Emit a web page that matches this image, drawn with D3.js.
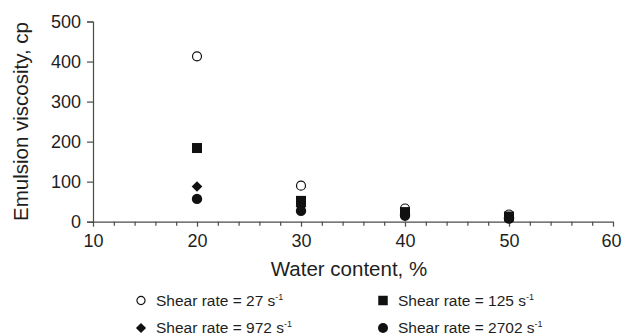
<!DOCTYPE html>
<html>
<head>
<meta charset="utf-8">
<script src="https://cdn.jsdelivr.net/npm/d3@7"></script>
<style>
  body { margin: 0; background: #fff; }
  svg { display: block; font-family: "Liberation Sans", Arial, sans-serif; }
</style>
</head>
<body>
<div id="chart"></div>
<script>
// water content (%) on x
const waterContent = [20, 30, 40, 50];

// emulsion viscosity (cp) for each shear rate
const visc27 = [413, 90, 33, 18];
const visc125 = [184, 52, 24, 13];
const visc972 = [88, 38, 19, 10];
const visc2702 = [57, 27, 15, 8];

const seriesNames = [
  'Shear rate = 27 s',
  'Shear rate = 125 s',
  'Shear rate = 972 s',
  'Shear rate = 2702 s'
];

const xTicks = [10, 20, 30, 40, 50, 60];
const yTicks = [0, 100, 200, 300, 400, 500];

const W = 622, H = 336;
const margin = { top: 21.5, right: 9, bottom: 114.3, left: 93 };

const svg = d3.select('#chart').append('svg')
  .attr('width', W)
  .attr('height', H);

const x = d3.scaleLinear().domain([10, 60]).range([margin.left, W - margin.right]);
const y = d3.scaleLinear().domain([0, 500]).range([H - margin.bottom, margin.top]);

const axisColor = '#4a4a4a';
const textColor = '#1e1e1e';

// y axis
const yAxis = svg.append('g')
  .attr('transform', `translate(${margin.left},0)`)
  .call(d3.axisLeft(y).tickValues(yTicks).tickSize(6).tickPadding(6).tickFormat(d3.format('d')));
yAxis.select('.domain').attr('stroke', axisColor).attr('stroke-width', 1.2);
yAxis.selectAll('.tick line').attr('stroke', axisColor).attr('stroke-width', 1.2);
yAxis.selectAll('.tick text').attr('fill', textColor).style('font-size', '18px');

// x axis minor ticks every 2
const xBase = H - margin.bottom;
const minor = d3.range(12, 60, 2).filter(d => d % 10 !== 0);
svg.append('g')
  .attr('transform', `translate(0,${xBase})`)
  .call(d3.axisBottom(x).tickValues(minor).tickSize(4).tickFormat(''))
  .call(g => g.select('.domain').remove())
  .selectAll('.tick line').attr('stroke', axisColor).attr('stroke-width', 1.2);

// x axis major ticks
const xAxis = svg.append('g')
  .attr('transform', `translate(0,${xBase})`)
  .call(d3.axisBottom(x).tickValues(xTicks).tickSize(5).tickSizeOuter(0).tickPadding(8));
xAxis.select('.domain').attr('stroke', axisColor).attr('stroke-width', 1.2);
xAxis.selectAll('.tick line').attr('stroke', axisColor).attr('stroke-width', 1.2);
xAxis.selectAll('.tick text').attr('fill', textColor).style('font-size', '18px');
// keep the last label inside the window
xAxis.selectAll('.tick text').filter(d => d === 60).attr('dx', -2);

// axis titles
svg.append('text')
  .attr('x', 349)
  .attr('y', 276)
  .attr('text-anchor', 'middle')
  .attr('fill', textColor)
  .style('font-size', '20.5px')
  .text('Water content, %');

svg.append('text')
  .attr('transform', `translate(28,${121.5}) rotate(-90)`)
  .attr('text-anchor', 'middle')
  .attr('fill', textColor)
  .style('font-size', '20.5px')
  .text('Emulsion viscosity, cp');

// marker drawers
const markers = [
  (g, s) => g.append('circle').attr('r', s * 0.45).attr('fill', '#fff').attr('stroke', '#111').attr('stroke-width', 1.2),
  (g, s) => g.append('rect').attr('x', -s / 2).attr('y', -s / 2).attr('width', s).attr('height', s).attr('fill', '#111'),
  (g, s) => g.append('path').attr('d', d3.symbol(d3.symbolDiamond2, s * s * 0.6)()).attr('fill', '#111'),
  (g, s) => g.append('circle').attr('r', s * 0.5).attr('fill', '#111')
];

const allSeries = [visc27, visc125, visc972, visc2702];
const markerSizes = [10, 10, 11, 10.4];

allSeries.forEach((vals, i) => {
  const pts = svg.append('g').selectAll('g')
    .data(waterContent.map((w, j) => ({ w, v: vals[j] })))
    .enter()
    .append('g')
    .attr('transform', d => `translate(${x(d.w)},${y(d.v)})`);
  pts.each(function () { markers[i](d3.select(this), markerSizes[i]); });
});

// legend
const legendPos = [
  { sx: 141, tx: 156, cy: 300.5 },
  { sx: 383, tx: 398, cy: 300.5 },
  { sx: 141, tx: 156, cy: 328 },
  { sx: 383, tx: 398, cy: 328 }
];
const legendSizes = [9, 9.5, 10.5, 10];

seriesNames.forEach((name, i) => {
  const p = legendPos[i];
  const g = svg.append('g').attr('transform', `translate(${p.sx},${p.cy})`);
  markers[i](g, legendSizes[i]);
  const t = svg.append('text')
    .attr('x', p.tx)
    .attr('y', p.cy + 5.3)
    .attr('fill', textColor)
    .style('font-size', '15.5px')
    .text(name);
  t.append('tspan')
    .attr('dy', -6)
    .style('font-size', '9px')
    .text('-1');
});
</script>
</body>
</html>
